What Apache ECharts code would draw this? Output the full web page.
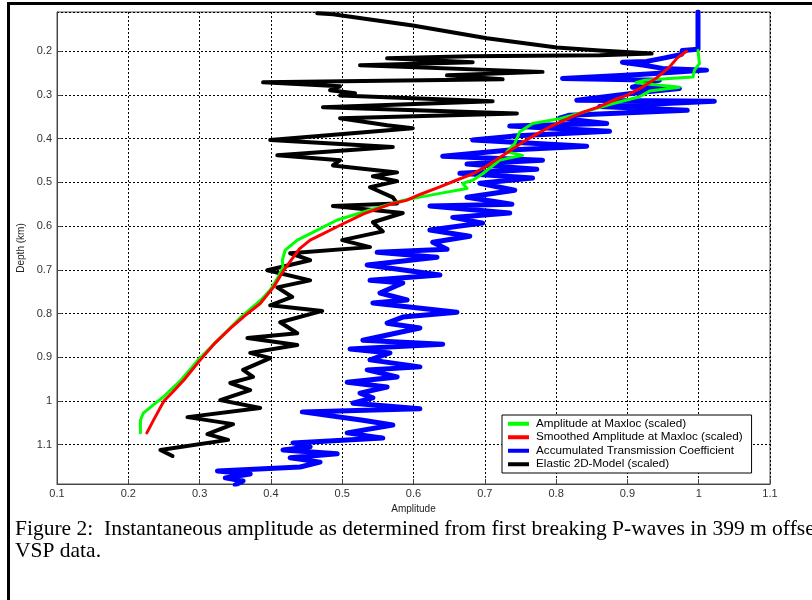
<!DOCTYPE html>
<html>
<head>
<meta charset="utf-8">
<script src="https://cdn.jsdelivr.net/npm/echarts@6/dist/echarts.min.js"></script>
<style>
html,body{margin:0;padding:0;background:#fff;}
#chart{width:812px;height:600px;}
</style>
</head>
<body>
<div id="chart"></div>
<script>
// Series names (legend order)
const seriesNames = [
  "Amplitude at Maxloc (scaled)",
  "Smoothed Amplitude at Maxloc (scaled)",
  "Accumulated Transmission Coefficient",
  "Elastic 2D-Model (scaled)"
];

// [amplitude, depth(km)]
const greenAmplitude = [
  [0.999,0.198],[1.001,0.228],[0.994,0.243],[0.992,0.259],[0.959,0.262],[0.924,0.266],
  [0.912,0.272],[0.973,0.282],[0.931,0.291],[0.917,0.304],[0.879,0.320],[0.847,0.335],
  [0.805,0.354],[0.767,0.365],[0.749,0.384],[0.742,0.411],[0.731,0.430],[0.753,0.438],
  [0.721,0.449],[0.697,0.480],[0.683,0.495],[0.669,0.502],[0.675,0.514],[0.637,0.525],
  [0.585,0.541],[0.539,0.563],[0.493,0.586],[0.465,0.609],[0.437,0.632],[0.420,0.655],
  [0.416,0.678],[0.417,0.694],[0.410,0.717],[0.399,0.746],[0.386,0.769],[0.358,0.808],
  [0.340,0.838],[0.298,0.906],[0.274,0.952],[0.249,0.991],[0.235,1.009],[0.221,1.028],
  [0.217,1.044],[0.217,1.073]
];

const redSmoothed = [
  [0.983,0.200],[0.970,0.215],[0.959,0.236],[0.940,0.262],[0.920,0.283],[0.900,0.300],
  [0.880,0.312],[0.860,0.327],[0.838,0.339],[0.815,0.355],[0.791,0.373],[0.772,0.390],
  [0.754,0.407],[0.735,0.428],[0.716,0.448],[0.700,0.465],[0.684,0.480],[0.660,0.495],
  [0.637,0.510],[0.610,0.527],[0.590,0.541],[0.567,0.550],[0.530,0.572],[0.497,0.598],
  [0.470,0.620],[0.455,0.632],[0.440,0.652],[0.432,0.670],[0.418,0.701],[0.404,0.739],
  [0.385,0.777],[0.362,0.807],[0.343,0.834],[0.320,0.870],[0.301,0.906],[0.278,0.952],
  [0.262,0.980],[0.250,1.000],[0.243,1.021],[0.235,1.045],[0.226,1.073]
];

const blueTransmission = [
  [0.999,0.110],[0.999,0.195],[0.977,0.198],[0.976,0.207],[0.949,0.216],[0.927,0.223],
  [0.893,0.225],[0.924,0.232],[0.949,0.239],[1.011,0.243],[0.917,0.253],[0.809,0.262],
  [0.945,0.266],[0.907,0.282],[0.973,0.285],[0.917,0.294],[0.829,0.312],[1.022,0.314],
  [0.861,0.326],[0.984,0.335],[0.819,0.346],[0.805,0.353],[0.871,0.365],[0.735,0.371],
  [0.875,0.383],[0.739,0.394],[0.683,0.403],[0.843,0.417],[0.735,0.426],[0.641,0.440],
  [0.781,0.449],[0.675,0.458],[0.773,0.470],[0.665,0.479],[0.767,0.490],[0.693,0.502],
  [0.742,0.518],[0.675,0.534],[0.738,0.550],[0.623,0.554],[0.735,0.570],[0.655,0.580],
  [0.697,0.593],[0.623,0.609],[0.679,0.623],[0.627,0.637],[0.647,0.653],[0.549,0.660],
  [0.633,0.671],[0.535,0.689],[0.637,0.712],[0.539,0.724],[0.585,0.730],[0.553,0.753],
  [0.591,0.769],[0.543,0.776],[0.661,0.797],[0.585,0.808],[0.563,0.822],[0.609,0.833],
  [0.529,0.861],[0.641,0.870],[0.511,0.881],[0.567,0.890],[0.539,0.906],[0.609,0.922],
  [0.535,0.929],[0.577,0.945],[0.507,0.957],[0.563,0.968],[0.525,0.982],[0.543,0.993],
  [0.515,1.005],[0.609,1.018],[0.444,1.025],[0.529,1.044],[0.571,1.055],[0.507,1.073],
  [0.557,1.085],[0.431,1.096],[0.455,1.105],[0.417,1.112],[0.493,1.121],[0.427,1.130],
  [0.469,1.140],[0.441,1.151],[0.325,1.160],[0.371,1.167],[0.336,1.176],[0.361,1.183],
  [0.350,1.192]
];

const blackElastic = [
  [0.465,0.113],[0.487,0.115],[0.599,0.141],[0.703,0.170],[0.801,0.191],[0.861,0.198],
  [0.934,0.205],[0.861,0.209],[0.679,0.211],[0.563,0.216],[0.683,0.225],[0.525,0.232],
  [0.781,0.247],[0.647,0.255],[0.725,0.264],[0.389,0.271],[0.497,0.280],[0.483,0.289],
  [0.518,0.296],[0.497,0.301],[0.711,0.314],[0.473,0.328],[0.745,0.342],[0.497,0.353],
  [0.563,0.369],[0.599,0.376],[0.399,0.403],[0.571,0.419],[0.409,0.438],[0.497,0.449],
  [0.487,0.461],[0.577,0.477],[0.543,0.486],[0.577,0.497],[0.539,0.511],[0.571,0.534],
  [0.577,0.548],[0.487,0.554],[0.585,0.570],[0.543,0.591],[0.557,0.612],[0.500,0.632],
  [0.539,0.648],[0.427,0.662],[0.455,0.678],[0.395,0.701],[0.455,0.724],[0.409,0.740],
  [0.430,0.762],[0.399,0.781],[0.472,0.794],[0.413,0.820],[0.437,0.845],[0.367,0.856],
  [0.437,0.872],[0.371,0.890],[0.399,0.902],[0.361,0.929],[0.375,0.945],[0.343,0.959],
  [0.371,0.975],[0.329,0.998],[0.385,1.016],[0.283,1.037],[0.347,1.053],[0.311,1.076],
  [0.340,1.089],[0.245,1.112],[0.262,1.126]
];

const captionLines = [
  "Figure 2:  Instantaneous amplitude as determined from first breaking P-waves in 399 m offset",
  "VSP data."
];

const chart = echarts.init(document.getElementById('chart'), null, {renderer: 'canvas'});
const tickFont = {color: '#333', fontSize: 11, fontFamily: 'Liberation Sans, Arial, sans-serif'};

function lineSeries(name, data, color, width, z) {
  return {
    name: name, type: 'line', data: data, showSymbol: false, symbol: 'none',
    smooth: false, z: z, animation: false,
    lineStyle: {color: color, width: width, join: 'round', cap: 'round'},
    itemStyle: {color: color}
  };
}

chart.setOption({
  animation: false,
  backgroundColor: '#fff',
  grid: {left: 57, top: 12, right: 42, bottom: 116, show: true, borderColor: '#555', borderWidth: 1, backgroundColor: 'transparent'},
  xAxis: {
    type: 'value', min: 0.1, max: 1.1, interval: 0.1,
    name: 'Amplitude', nameLocation: 'middle', nameGap: 12,
    nameTextStyle: {color: '#222', fontSize: 10, fontFamily: 'Liberation Sans, Arial, sans-serif'},
    axisLine: {show: true, lineStyle: {color: '#444', width: 1}},
    axisTick: {show: true, inside: true, length: 5, lineStyle: {color: '#444'}},
    axisLabel: Object.assign({margin: 4}, tickFont),
    splitLine: {show: true, lineStyle: {color: '#000', type: [2, 2], width: 1}}
  },
  yAxis: {
    type: 'value', inverse: true, min: 0.11, max: 1.19,
    splitNumber: 11, minInterval: 0.1, maxInterval: 0.1,
    name: 'Depth (km)', nameLocation: 'middle', nameGap: 26, nameRotate: 90,
    nameTextStyle: {color: '#222', fontSize: 10, fontFamily: 'Liberation Sans, Arial, sans-serif'},
    axisLine: {show: true, lineStyle: {color: '#444', width: 1}},
    axisTick: {show: true, inside: true, length: 5, lineStyle: {color: '#444'}},
    axisLabel: Object.assign({margin: 5, showMinLabel: false, showMaxLabel: false}, tickFont),
    splitLine: {show: true, lineStyle: {color: '#000', type: [2, 2], width: 1}}
  },
  legend: {
    orient: 'vertical', left: 502, top: 415,
    data: seriesNames,
    icon: 'rect', itemWidth: 21, itemHeight: 4, itemGap: 0,
    padding: [2, 9, 2, 6],
    backgroundColor: '#fff', borderColor: '#000', borderWidth: 1,
    textStyle: {color: '#000', fontSize: 11.7, lineHeight: 13.5, fontFamily: 'Liberation Sans, Arial, sans-serif', padding: [0, 0, 0, 2]},
    selectedMode: false
  },
  series: [
    lineSeries(seriesNames[0], greenAmplitude, '#00ff00', 3, 3),
    lineSeries(seriesNames[1], redSmoothed, '#ff0000', 3, 4),
    lineSeries(seriesNames[2], blueTransmission, '#0000ff', 5, 2),
    lineSeries(seriesNames[3], blackElastic, '#000000', 4, 1)
  ],
  graphic: [
    {type: 'rect', silent: true, z: 100, shape: {x: 8.5, y: 3.5, width: 900, height: 700},
     style: {fill: 'none', stroke: '#000', lineWidth: 3}},
    {type: 'text', silent: true, left: 15, top: 518, z: 100,
     style: {text: captionLines[0], fill: '#000', font: '21.5px "Liberation Serif", "Times New Roman", serif'}},
    {type: 'text', silent: true, left: 15, top: 540, z: 100,
     style: {text: captionLines[1], fill: '#000', font: '21.5px "Liberation Serif", "Times New Roman", serif'}}
  ]
});
</script>
</body>
</html>
